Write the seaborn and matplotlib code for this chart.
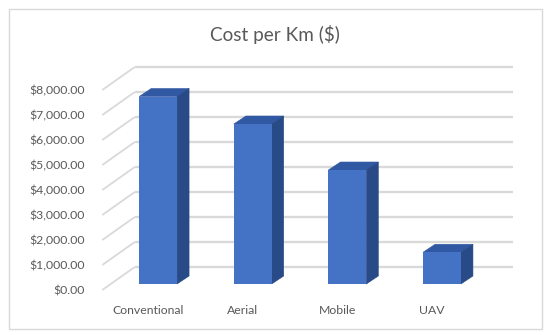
import matplotlib
matplotlib.use("Agg")
import matplotlib.pyplot as plt
import seaborn as sns
from matplotlib.patches import Polygon, Rectangle

# data
methods = ["Conventional", "Aerial", "Mobile", "UAV"]
cost_per_km = [7500, 6400, 4560, 1270]
ytick_values = [0, 1000, 2000, 3000, 4000, 5000, 6000, 7000, 8000]

front_col = "#4472C4"
top_col = "#3158a2"
side_col = "#284a87"
grid_col = "#d9d9d9"
text_col = "#595959"

sns.set_style("white")
plt.rcParams["font.family"] = ["Lato", "DejaVu Sans"]

fig = plt.figure(figsize=(5.5, 3.35), dpi=100)
ax = fig.add_axes([90 / 550, 35 / 335, 440 / 550, 245 / 335])

sns.barplot(x=methods, y=cost_per_km, width=0.4, color=front_col,
            saturation=1, linewidth=0, ax=ax, zorder=3)

# fake 3d: depth offsets in data units
bar_dx, bar_dy = 0.127, 320
back_dx, back_dy = 0.253, 680
front_dx, front_dy = -0.09, -240

# back wall gridlines + left side diagonals
for v in ytick_values:
    ax.plot([-0.5 + front_dx, -0.5 + back_dx], [v + front_dy, v + back_dy],
            color=grid_col, lw=1.3, zorder=1, solid_capstyle="butt")
    ax.plot([-0.5 + back_dx, 3.5 + back_dx], [v + back_dy, v + back_dy],
            color=grid_col, lw=1.7, zorder=1, solid_capstyle="butt")

for p in ax.patches[:len(methods)]:
    x0, w, h = p.get_x(), p.get_width(), p.get_height()
    top = Polygon([(x0, h), (x0 + w, h), (x0 + w + bar_dx, h + bar_dy),
                   (x0 + bar_dx, h + bar_dy)], closed=True,
                  facecolor=top_col, edgecolor=top_col, lw=0.4, zorder=2.9)
    side = Polygon([(x0 + w, 0), (x0 + w, h), (x0 + w + bar_dx, h + bar_dy),
                    (x0 + w + bar_dx, bar_dy)], closed=True,
                   facecolor=side_col, edgecolor=side_col, lw=0.4, zorder=2.9)
    ax.add_patch(top)
    ax.add_patch(side)

ax.set_xlim(-0.72, 3.93)
ax.set_ylim(-640, 9160)

ax.set_yticks([v + front_dy for v in ytick_values],
              [f"${v:,.2f}" for v in ytick_values])
ax.set_xticks([i - 0.106 for i in range(len(methods))], methods)
ax.tick_params(axis="both", length=0, colors=text_col, labelsize=8.8)
ax.tick_params(axis="y", pad=3.6)
ax.tick_params(axis="x", pad=3.6)
ax.set_xlabel("")
ax.set_ylabel("")
sns.despine(ax=ax, left=True, bottom=True)

fig.text(0.5, 1 - 35 / 335, "Cost per Km ($)", ha="center", va="center",
         fontsize=13.6, color=text_col)

# chart area border
fig.patches.append(Rectangle((9 / 550, 6 / 335), 533 / 550, 320 / 335,
                             transform=fig.transFigure, fill=False,
                             edgecolor=grid_col, lw=1))

fig.savefig("out.png", dpi=100)
